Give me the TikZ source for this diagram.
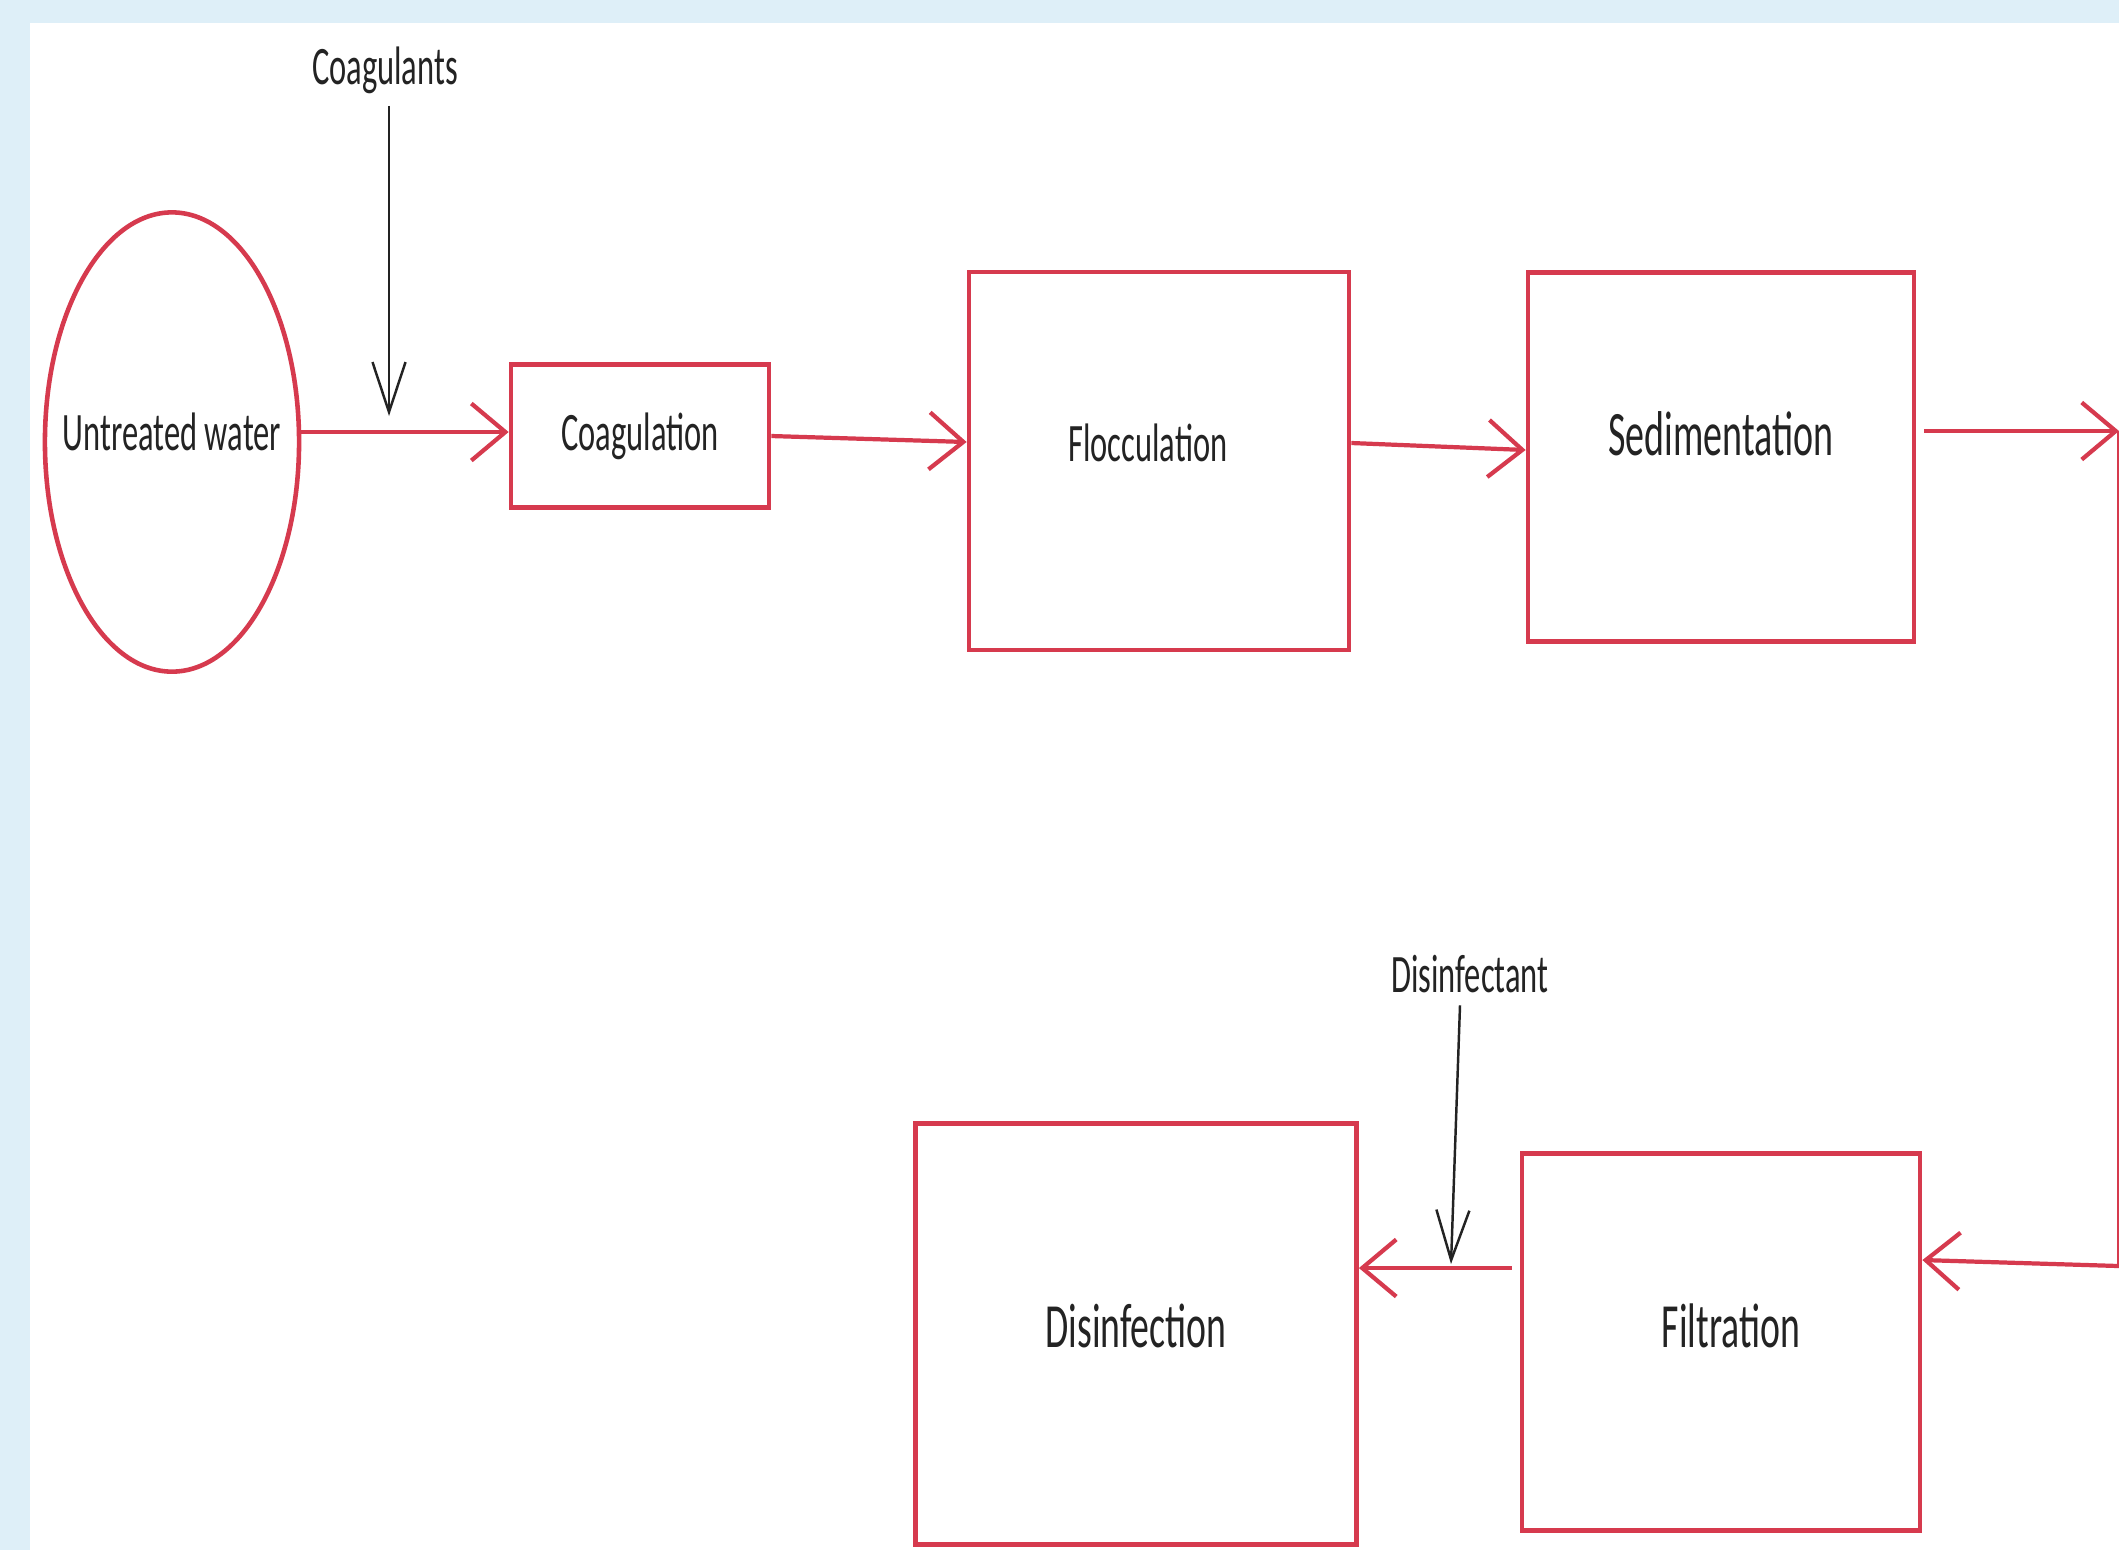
\documentclass[tikz,border=0pt]{standalone}
\usepackage{fontspec}
\setmainfont{Carlito}
\usepackage{graphicx}
\usetikzlibrary{shapes.geometric,arrows.meta}

\definecolor{panel}{RGB}{222,239,248}
\definecolor{pipe}{RGB}{214,58,78}
\definecolor{ink}{RGB}{35,35,35}

\newcommand{\squeezed}[2][15.4]{\scalebox{0.6}[1]{\fontsize{#1}{#1}\selectfont #2}}

\tikzset{
  stage/.style={draw=pipe, line width=1.3pt, inner sep=0pt, text=ink},
  tag/.style={text=ink, inner sep=0pt},
  flow/.style={draw=pipe, line width=1.2pt, -{Straight Barb[length=0.34cm, width=0.57cm]}},
  dose/.style={draw=ink, line width=0.7pt, -{Straight Barb[length=0.5cm, width=0.33cm]}},
}

\begin{document}
\begin{tikzpicture}[x=0.01cm, y=-0.01cm]
    % Fondo
    \fill[panel] (0,0) rectangle (2119,1550);
    \fill[white] (30,23) rectangle (2119,1550);
    \useasboundingbox (0,0) rectangle (2119,1550);

    % Etapas
    \node[stage, ellipse, minimum width=2.54cm, minimum height=4.59cm,
      label={[tag, yshift=0.1cm]center:\squeezed{Untreated water}}] (untreated) at (172,442) {};
    \node[stage, minimum width=2.58cm, minimum height=1.43cm] (coag) at (640,436) {\squeezed{Coagulation}};
    \node[stage, minimum width=3.80cm, minimum height=3.78cm,
      label={[tag, xshift=-0.11cm, yshift=0.18cm]center:\squeezed{Flocculation}}] (floc) at (1159,461) {};
    \node[stage, minimum width=3.86cm, minimum height=3.69cm,
      label={[tag, yshift=0.23cm]center:\squeezed[18]{Sedimentation}}] (sed) at (1721,457) {};
    \node[stage, minimum width=3.98cm, minimum height=3.77cm,
      label={[tag, xshift=0.1cm, yshift=0.16cm]center:\squeezed[17.9]{Filtration}}] (filt) at (1721,1342) {};
    \node[stage, minimum width=4.41cm, minimum height=4.21cm,
      label={[tag, yshift=0.08cm]center:\squeezed[17.9]{Disinfection}}] (dis) at (1136,1334) {};

    % Dosis
    \node[text=ink] (coagulants) at (385,70) {\squeezed{Coagulants}};
    \node[text=ink] (disinfectant) at (1470,974) {\squeezed{Disinfectant}};

    % Puntos del borde
    \coordinate (edgetop) at (2119,431);
    \coordinate (edgebot) at (2119,1266);
    \coordinate (coagdrop) at (389,416);
    \coordinate (disdrop) at (1451,1264);

    % Flechas
    \draw[flow] (untreated.east |- 0,432) -- (coag.west |- 0,432);
    \draw[flow] (coag.east |- 0,436) -- (floc.west |- 0,442);
    \draw[flow] (floc.east |- 0,443) -- (sed.west |- 0,450);
    \draw[flow, shorten <=0.08cm] (sed.east |- edgetop) -- (edgetop);
    \draw[draw=pipe, line width=1.2pt] (edgetop) -- (edgebot);
    \draw[flow] (edgebot) -- (filt.east |- 0,1260);
    \draw[flow, shorten <=0.08cm] (filt.west |- 0,1268) -- (dis.east |- 0,1268);

    % Dosificacion
    \draw[dose] (coagulants.south -| coagdrop) -- (coagdrop);
    \draw[dose] ([xshift=-0.1cm]disinfectant.south) -- (disdrop);
\end{tikzpicture}
\end{document}
